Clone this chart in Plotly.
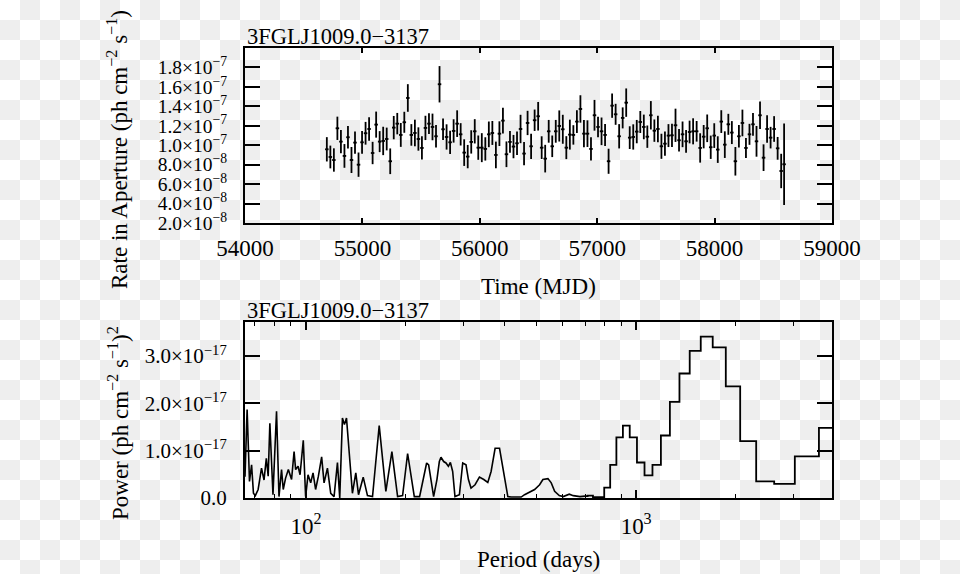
import base64
import plotly.graph_objects as go

# ---------------- data: light curve (top panel) ----------------
mjd = [
    54697, 54727, 54757, 54787, 54817, 54847, 54877, 54907, 54937, 54967,
    54997, 55027, 55057, 55087, 55117, 55147, 55177, 55207, 55237, 55267,
    55297, 55327, 55357, 55387, 55417, 55447, 55477, 55507, 55537, 55567,
    55597, 55627, 55657, 55687, 55717, 55747, 55777, 55807, 55837, 55867,
    55897, 55927, 55957, 55987, 56017, 56047, 56077, 56107, 56137, 56167,
    56197, 56227, 56257, 56287, 56317, 56347, 56377, 56407, 56437, 56467,
    56497, 56527, 56557, 56587, 56617, 56647, 56677, 56707, 56737, 56767,
    56797, 56827, 56857, 56887, 56917, 56947, 56977, 57007, 57037, 57067,
    57097, 57127, 57157, 57187, 57217, 57247, 57277, 57307, 57337, 57367,
    57397, 57427, 57457, 57487, 57517, 57547, 57577, 57607, 57637, 57667,
    57697, 57727, 57757, 57787, 57817, 57847, 57877, 57907, 57937, 57967,
    57997, 58027, 58057, 58087, 58117, 58147, 58177, 58207, 58237, 58267,
    58297, 58327, 58357, 58387, 58417, 58447, 58477, 58507, 58537, 58567,
    58592,
]
# rate in units of 1e-8 ph cm^-2 s^-1
rate_e8 = [
    9.58, 8.79, 8.48, 11.74, 10.37, 8.90, 10.82, 8.48, 10.27, 8.00,
    10.30, 11.23, 11.67, 9.20, 12.12, 10.37, 10.44, 10.64, 8.35, 11.81,
    12.22, 11.06, 12.36, 14.86, 11.06, 11.26, 10.64, 9.72, 11.78, 12.22,
    11.88, 10.92, 16.27, 11.64, 10.85, 10.30, 11.47, 12.22, 11.12, 9.24,
    8.83, 10.34, 11.43, 9.75, 9.75, 9.62, 11.12, 11.26, 9.00, 11.19,
    12.53, 9.07, 10.34, 9.86, 10.20, 11.67, 9.14, 12.29, 9.89, 12.57,
    12.98, 9.75, 8.62, 11.43, 9.89, 11.43,
    11.98, 11.64, 9.75, 11.09, 11.06, 12.43, 13.73, 11.19, 11.19, 9.62,
    13.08, 11.88, 11.43, 11.06, 8.35, 14.07, 13.18, 10.92, 12.81, 14.38,
    10.78, 10.85, 11.40, 12.39, 11.88, 10.88, 13.08, 11.50, 11.67, 9.89,
    10.16, 10.99, 11.02, 12.05, 10.51, 11.12, 10.40, 11.36, 11.43, 11.43,
    9.72, 10.88, 11.74, 9.79, 10.99, 9.55, 12.43, 10.06, 12.15, 11.30,
    8.35, 10.92, 12.29, 9.72, 11.12, 12.15, 10.40, 13.08, 8.72, 11.67,
    10.78, 11.67, 9.68, 7.35,
    8.04,
]
rate_err_e8 = [
    1.25, 1.17, 1.20, 1.20, 1.20, 1.22, 1.15, 1.34, 1.15, 1.25,
    1.17, 1.17, 1.20, 1.15, 1.34, 1.08, 1.46, 1.17, 1.32, 1.20,
    1.10, 1.23, 1.08, 1.42, 1.11, 1.37, 1.20, 1.20, 1.25, 1.06,
    1.37, 1.15, 1.87, 1.11, 1.30, 1.20, 1.20, 1.37, 1.15, 1.37,
    1.20, 1.20, 1.25, 1.25, 1.49, 1.20, 1.32, 1.23, 1.37, 1.27,
    1.32, 1.32, 1.11, 1.20, 1.20, 1.46, 1.20, 1.25, 1.30, 1.10,
    1.47, 1.17, 1.42, 1.17, 1.11, 1.17,
    1.60, 1.49, 1.18, 1.54, 1.00, 1.17, 1.41, 1.41, 1.37, 1.20,
    1.58, 1.06, 1.42, 1.13, 1.29, 1.25, 1.08, 1.25, 1.08, 1.46,
    1.17, 1.30, 1.20, 1.13, 1.27, 1.15, 1.46, 1.15, 1.37, 1.29,
    1.25, 1.18, 1.20, 1.71, 1.15, 1.32, 1.17, 1.17, 1.34, 1.06,
    1.51, 1.20, 1.42, 1.20, 1.27, 1.37, 1.17, 1.37, 1.08, 1.18,
    1.47, 1.15, 1.37, 1.03, 1.08, 1.17, 1.58, 1.42, 1.37, 1.42,
    1.11, 1.32, 1.17, 1.77,
    4.20,
]
time_half_bin = 15  # days
RATE_UNIT = 1e-8

# ---------------- data: power spectrum (bottom panel) ----------------
# dense part (drawn as a line), period in days, power in 1e-17 units
dense_period = [
    65.33, 66.3, 67.4, 68.4, 69.3, 70.2, 71.6, 73.3, 74.6, 75.8,
    76.8, 77.7, 79.4, 81.4, 82.8, 84.3, 85.3, 86.7, 88.4, 90.4,
    92.0, 93.0, 94.6, 95.9, 98.1, 99.7, 101.4, 103.3, 105.0, 106.9,
    109.0, 111.5, 113.4, 116.1, 118.8, 121.6, 124.5, 126.5, 128.9, 130.7,
    132.6, 135.1, 138.2, 141.5, 144.2, 149.0, 153.5, 159.0, 166.6, 174.5,
    182.0, 189.4, 196.1, 203.1, 207.8, 212.8, 220.8, 231.9, 235.2, 240.6,
    243.5, 249.2, 253.4, 256.3, 261.2, 265.4, 269.9, 273.7, 278.1, 282.6,
    291.5, 298.3, 305.2, 310.4, 316.1, 325.1, 335.2, 345.5, 355.3, 363.6,
    373.9, 385.6, 391.8, 399.3, 408.6, 418.2, 448.5, 459.2, 475.6, 492.5,
    510.0, 521.9, 540.5, 553.1, 566.4, 584.9, 601.5, 627.2, 645.0, 675.9,
    700.0,
]
dense_power_e17 = [
    0.45, 1.87, 0.35, 0.70, 0.10, 0.05, 0.18, 0.63, 0.38, 0.84,
    0.46, 1.58, 0.07, 1.83, 0.03, 0.60, 0.18, 0.42, 0.60, 0.39,
    0.98, 0.60, 0.67, 0.49, 1.22, 0.03, 0.49, 0.32, 0.53, 0.18,
    0.46, 0.87, 0.32, 0.63, 0.10, 0.03, 0.75, 0.00, 1.69, 1.55,
    1.69, 0.95, 0.10, 0.53, 0.07, 0.44, 0.05, 0.03, 1.53, 0.14,
    0.98, 0.03, 0.05, 0.94, 0.53, 0.03, 0.03, 0.74, 0.70, 0.21,
    0.03, 0.39, 0.77, 0.86, 0.77, 0.74, 0.67, 0.75, 0.56, 0.03,
    0.07, 0.74, 0.70, 0.39, 0.21, 0.28, 0.44, 0.39, 0.33, 0.56,
    1.05, 1.05, 0.77, 0.35, 0.03, 0.02, 0.02, 0.07, 0.12, 0.18,
    0.28, 0.39, 0.41, 0.32, 0.14, 0.05, 0.03, 0.08, 0.05, 0.03,
    0.04,
]
# long-period part (drawn as steps)
step_period = [
    700, 726, 754, 784, 817, 852, 891, 933, 980, 1032, 1089, 1153,
    1225, 1307, 1400, 1508, 1633, 1782, 1960, 2178, 2450, 2800, 3267, 3920,
]
step_power_e17 = [
    0.04, 0.05, 0.02, 0.02, 0.22, 0.70, 1.28, 1.53, 1.28, 0.75, 0.48, 0.70,
    1.32, 2.03, 2.63, 3.11, 3.41, 3.18, 2.36, 1.20, 0.35, 0.30, 0.88, 1.48,
]
POWER_UNIT = 1e-17

# ---------------- ticks ----------------
top_x_ticks = [54000, 55000, 56000, 57000, 58000, 59000]
top_y_ticks = [2e-8, 4e-8, 6e-8, 8e-8, 1.0e-7, 1.2e-7, 1.4e-7, 1.6e-7, 1.8e-7]
top_y_text = ["2.0×10<sup>−8</sup>", "4.0×10<sup>−8</sup>", "6.0×10<sup>−8</sup>",
              "8.0×10<sup>−8</sup>", "1.0×10<sup>−7</sup>", "1.2×10<sup>−7</sup>",
              "1.4×10<sup>−7</sup>", "1.6×10<sup>−7</sup>", "1.8×10<sup>−7</sup>"]
bot_x_ticks = [100, 1000]
bot_x_text = ["10<sup>2</sup>", "10<sup>3</sup>"]
bot_x_minor = [70, 80, 90, 200, 300, 400, 500, 600, 700, 800, 900, 2000, 3000]
bot_y_ticks = [0, 1e-17, 2e-17, 3e-17]
bot_y_text = ["0.0", "1.0×10<sup>−17</sup>", "2.0×10<sup>−17</sup>", "3.0×10<sup>−17</sup>"]

source_name = "3FGLJ1009.0−3137"

# ---------------- figure ----------------
W, H = 960, 574
ML, MR, MT, MB = 245, 128, 48, 76
PW, PH = W - ML - MR, H - MT - MB
FONT = "Liberation Serif, Times New Roman, serif"
INK = "black"

fig = go.Figure()
fig.add_trace(go.Scatter(
    x=mjd, y=[v * RATE_UNIT for v in rate_e8], mode="markers",
    marker=dict(size=2, color=INK),
    error_y=dict(type="data", array=[e * RATE_UNIT for e in rate_err_e8],
                 width=0, thickness=1.8, color=INK),
    error_x=dict(type="constant", value=time_half_bin, width=0, thickness=1.8, color=INK),
    xaxis="x", yaxis="y", showlegend=False, hoverinfo="skip"))
fig.add_trace(go.Scatter(
    x=dense_period, y=[v * POWER_UNIT for v in dense_power_e17], mode="lines",
    line=dict(color=INK, width=1.6), xaxis="x2", yaxis="y2",
    showlegend=False, hoverinfo="skip"))
fig.add_trace(go.Scatter(
    x=step_period, y=[v * POWER_UNIT for v in step_power_e17], mode="lines",
    line=dict(color=INK, width=1.8, shape="hvh"), xaxis="x2", yaxis="y2",
    showlegend=False, hoverinfo="skip"))

axis_common = dict(showline=True, linecolor=INK, linewidth=2, mirror="ticks",
                   ticks="inside", tickcolor=INK, tickwidth=1.6, showgrid=False,
                   zeroline=False)
xfont = dict(family=FONT, size=23, color=INK)
yfont = dict(family=FONT, size=19.5, color=INK)

top_frac = (H - MB - (MT + 175)) / PH
bot_frac = (H - MB - 322) / PH

fig.update_layout(
    width=W, height=H,
    margin=dict(l=ML, r=MR, t=MT, b=MB, pad=0),
    paper_bgcolor="white", plot_bgcolor="rgba(0,0,0,0)",
    font=dict(family=FONT, size=23, color=INK),
    xaxis=dict(axis_common, domain=[0, 1], anchor="y", range=[54000, 59000],
               tickmode="array", tickvals=top_x_ticks, tickfont=xfont,
               ticktext=[str(t) for t in top_x_ticks], ticklen=5,
               ticklabelstandoff=3),
    yaxis=dict(axis_common, domain=[top_frac, 1], anchor="x",
               range=[2e-8, 2e-7], tickmode="array", tickvals=top_y_ticks,
               ticktext=top_y_text, tickfont=yfont, ticklen=15,
               ticklabelstandoff=12),
    xaxis2=dict(axis_common, domain=[0, 1], anchor="y2", type="log",
                range=[1.8151, 3.5933], tickmode="array", tickvals=bot_x_ticks,
                ticktext=bot_x_text, tickfont=xfont, ticklen=8,
                ticklabelstandoff=6,
                minor=dict(ticks="inside", ticklen=4, tickvals=bot_x_minor,
                           tickcolor=INK, tickwidth=1.4)),
    yaxis2=dict(axis_common, domain=[0, bot_frac], anchor="x2",
                range=[0, 3.718e-17], tickmode="array", tickvals=bot_y_ticks,
                ticktext=bot_y_text, tickfont=dict(family=FONT, size=21, color=INK),
                ticklen=15, ticklabelstandoff=12),
)

svg = ("<svg xmlns='http://www.w3.org/2000/svg' width='960' height='574'>"
       "<defs><pattern id='c' width='40' height='40' patternUnits='userSpaceOnUse'>"
       "<rect width='40' height='40' fill='#ffffff'/>"
       "<rect x='20' y='0' width='20' height='20' fill='#eeeeee'/>"
       "<rect x='0' y='20' width='20' height='20' fill='#eeeeee'/>"
       "</pattern></defs><rect width='960' height='574' fill='url(#c)'/></svg>")
src = "data:image/svg+xml;base64," + base64.b64encode(svg.encode()).decode()
fig.add_layout_image(dict(source=src, xref="paper", yref="paper",
                          x=-ML / PW, y=1 + MT / PH, sizex=W / PW, sizey=H / PH,
                          sizing="stretch", xanchor="left", yanchor="top",
                          layer="below"))


def px_x(px):
    return (px - ML) / PW


def px_y(py):
    return (H - MB - py) / PH


ann_font = dict(family=FONT, size=23, color=INK)
annotations = [
    dict(text=source_name, x=0, y=1, xref="paper", yref="paper",
         xanchor="left", yanchor="bottom", yshift=-3, showarrow=False,
         font=dict(family=FONT, size=22.5, color=INK)),
    dict(text=source_name, x=0, y=bot_frac, xref="paper", yref="paper",
         xanchor="left", yanchor="bottom", yshift=-3, showarrow=False,
         font=dict(family=FONT, size=22.5, color=INK)),
    dict(text="Time (MJD)", x=0.5, y=px_y(286), xref="paper", yref="paper",
         xanchor="center", yanchor="middle", showarrow=False, font=ann_font),
    dict(text="Period (days)", x=0.5, y=px_y(559), xref="paper", yref="paper",
         xanchor="center", yanchor="middle", showarrow=False, font=ann_font),
    dict(text="Rate in Aperture (ph cm<sup>−2</sup> s<sup>−1</sup>)",
         x=px_x(117), y=px_y(150), xref="paper", yref="paper", textangle=-90,
         xanchor="center", yanchor="middle", showarrow=False, font=ann_font),
    dict(text="Power (ph cm<sup>−2</sup> s<sup>−1</sup>)<sup>2</sup>",
         x=px_x(118), y=px_y(423), xref="paper", yref="paper", textangle=-90,
         xanchor="center", yanchor="middle", showarrow=False, font=ann_font),
]
fig.update_layout(annotations=annotations)

fig.write_html("out.html")
